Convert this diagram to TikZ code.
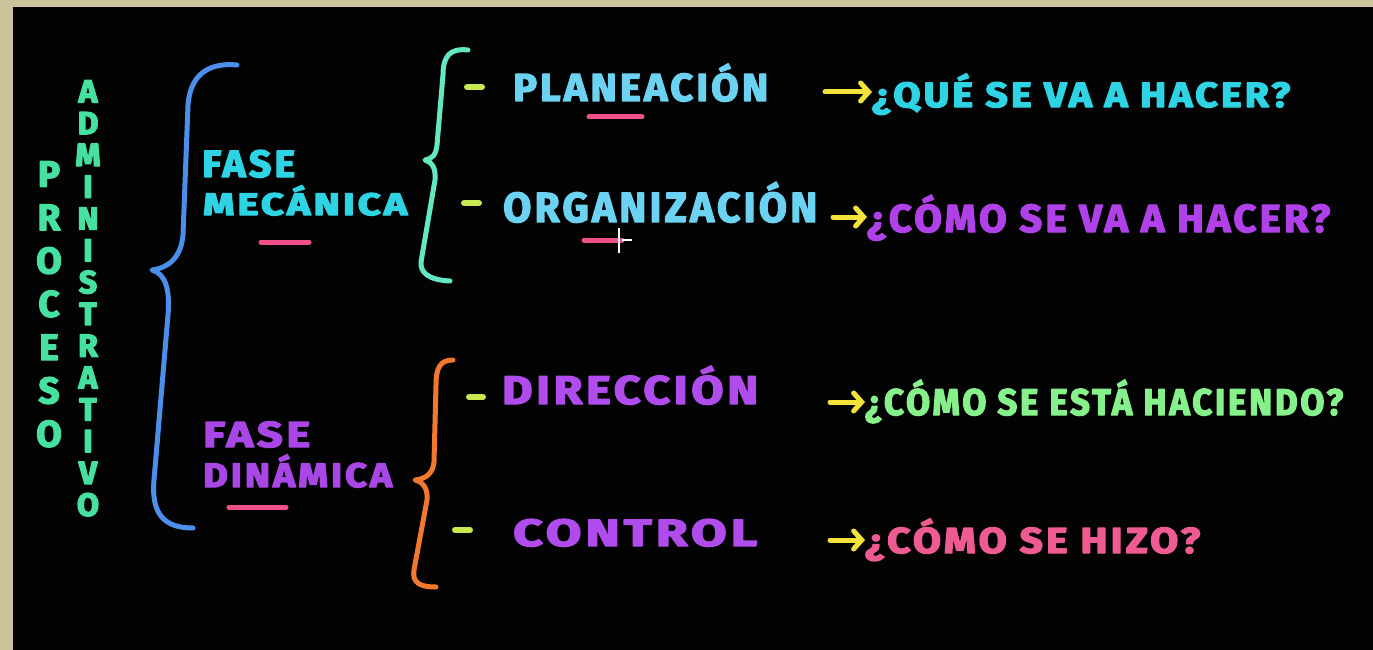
\documentclass[tikz,border=0pt]{standalone}
\usepackage{fontspec}
\usepackage{graphicx}
\setmainfont{Fira Sans}
\newfontfamily\hand{Fira Sans}[LetterSpace=8]
\usetikzlibrary{arrows.meta}
\definecolor{bgc}{HTML}{030303}
\definecolor{framec}{HTML}{CCC59C}
\definecolor{mintt}{HTML}{46E0A0}
\definecolor{bluebr}{HTML}{4C8FEA}
\definecolor{mintbr}{HTML}{64E8C4}
\definecolor{cyant}{HTML}{2ED4E4}
\definecolor{skyt}{HTML}{6CD2F2}
\definecolor{yelarr}{HTML}{F2E23A}
\definecolor{limeb}{HTML}{C8E850}
\definecolor{pinku}{HTML}{F0508A}
\definecolor{purpt}{HTML}{B04CEC}
\definecolor{purpq}{HTML}{B040E8}
\definecolor{purpf}{HTML}{A846E6}
\definecolor{greenq}{HTML}{86F08A}
\definecolor{pinkq}{HTML}{EE5A92}
\definecolor{orangebr}{HTML}{F2782E}
\newcommand\heavytext[1]{\special{pdf:literal direct 2 Tr 1.3 w 1 J 1 j}#1\special{pdf:literal direct 0 Tr}}
\newcommand\fitw[2]{\resizebox{#1pt}{\height}{\heavytext{#2}}}
\begin{document}
\begin{tikzpicture}[x=1pt,y=-1pt,
  lbl/.style={inner sep=0pt, anchor=base west},
  fs/.style={font={\hand\bfseries\fontsize{#1}{#1}\selectfont}},
  vert/.style={inner sep=0pt, anchor=north, align=center, text=mintt},
  brace/.style={line width=5pt, line cap=round, line join=round},
  arr/.style={draw=yelarr, line width=5pt, line cap=round,
    -{Straight Barb[length=8pt,width=18pt,line cap=round]}},
  bullet/.style={draw=limeb, line width=6pt, line cap=round},
  uline/.style={draw=pinku, line width=5pt, line cap=round}]
\useasboundingbox (0,0) rectangle (1373,650);
\fill[bgc] (0,0) rectangle (1373,650);
\fill[framec] (0,0) rectangle (1373,7);
\fill[framec] (0,0) rectangle (13,650);

% vertical title
\node[vert, font={\hand\bfseries\fontsize{37}{43.3}\selectfont}] (proc) at (49,161)
  {\heavytext{P}\\\heavytext{R}\\\heavytext{O}\\\heavytext{C}\\\heavytext{E}\\\heavytext{S}\\\heavytext{O}};
\node[vert, font={\hand\bfseries\fontsize{32}{31.8}\selectfont}] (admin) at (88,80)
  {\heavytext{A}\\\heavytext{D}\\\heavytext{M}\\\heavytext{I}\\\heavytext{N}\\\heavytext{I}\\\heavytext{S}\\\heavytext{T}\\\heavytext{R}\\\heavytext{A}\\\heavytext{T}\\\heavytext{I}\\\heavytext{V}\\\heavytext{O}};

% phases
\node[lbl, fs=38, text=cyant] (f1a) at (202,177) {\fitw{93}{FASE}};
\node[lbl, fs=31, text=cyant] (f1b) at (203,215) {\fitw{204}{MECÁNICA}};
\node[lbl, fs=36, text=purpf] (f2a) at (203,447) {\fitw{107}{FASE}};
\node[lbl, fs=34, text=purpf] (f2b) at (203,487) {\fitw{189}{DINÁMICA}};

% stages
\node[lbl, fs=39, text=skyt] (pla) at (513,101) {\fitw{255}{PLANEACIÓN}};
\node[lbl, fs=42, text=skyt] (org) at (503,222) {\fitw{314}{ORGANIZACIÓN}};
\node[lbl, fs=40, text=purpt] (dir) at (502,404) {\fitw{256}{DIRECCIÓN}};
\node[lbl, fs=38, text=purpt] (con) at (513,546) {\fitw{244}{CONTROL}};

% questions
\node[lbl, fs=35, text=cyant] (q1) at (872,107) {\fitw{418}{¿QUÉ SE VA A HACER?}};
\node[lbl, fs=39, text=purpq] (q2) at (867,232) {\fitw{463}{¿CÓMO SE VA A HACER?}};
\node[lbl, fs=37, text=greenq] (q3) at (865,415) {\fitw{478}{¿CÓMO SE ESTÁ HACIENDO?}};
\node[lbl, fs=36, text=pinkq] (q4) at (865,553) {\fitw{335}{¿CÓMO SE HIZO?}};

% arrows
\coordinate (a1) at (825,92);
\coordinate (a2) at (833,217);
\coordinate (a3) at (830,402);
\coordinate (a4) at (830,540);
\draw[arr] (a1) -- (a1 -| q1.west);
\draw[arr] (a2) -- (a2 -| q2.west);
\draw[arr] (a3) -- (a3 -| q3.west);
\draw[arr] (a4) -- (a4 -| q4.west);

% braces
\draw[brace, draw=bluebr] (237,65) .. controls (205,62) and (190,78) .. (188,105)
  -- (183,235) .. controls (181,258) and (168,268) .. (152,270)
  .. controls (166,274) and (170,290) .. (168,315)
  -- (154,480) .. controls (151,515) and (165,528) .. (193,528);
\draw[brace, draw=mintbr] (468,50) .. controls (450,48) and (443,56) .. (443,75)
  -- (437,145) .. controls (436,155) and (432,159) .. (425,160)
  .. controls (432,162) and (436,168) .. (435,180)
  -- (421,262) .. controls (420,272) and (428,280) .. (450,281);
\draw[brace, draw=orangebr] (453,360) .. controls (440,360) and (436,368) .. (436,385)
  -- (434,462) .. controls (433,474) and (425,479) .. (415,480)
  .. controls (424,482) and (428,490) .. (427,500)
  -- (414,570) .. controls (412,583) and (420,587) .. (436,587);

% bullets
\draw[bullet] (467,87) -- (482,87);
\draw[bullet] (464,203) -- (479,203);
\draw[bullet] (469,397) -- (483,397);
\draw[bullet] (455,530) -- (470,530);

% underlines
\draw[uline] (589,117) -- (642,117);
\draw[uline] (584,240) -- (622,240);
\draw[uline] (261,242) -- (309,242);
\draw[uline] (229,507) -- (286,507);

% cursor
\draw[white, line width=1.5pt] (619,228) -- (619,253);
\draw[white, line width=1.5pt] (622,240) -- (632,240);
\end{tikzpicture}
\end{document}
